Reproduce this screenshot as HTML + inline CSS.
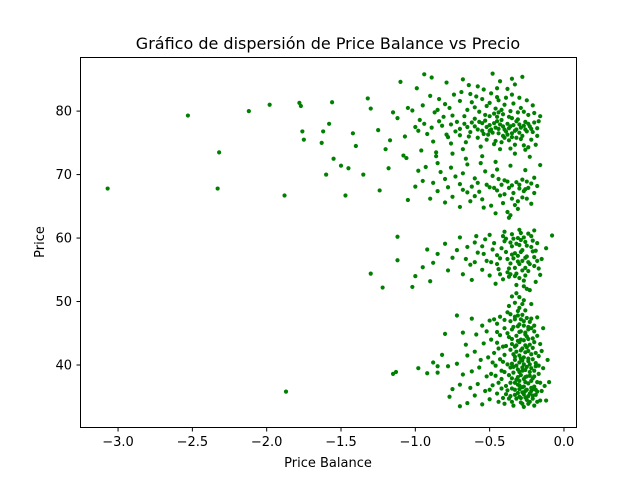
<!DOCTYPE html>
<html><head><meta charset="utf-8"><style>
body{margin:0;background:#fff}
svg text{font-family:"DejaVu Sans","Liberation Sans",sans-serif;fill:#000}
</style></head><body>
<svg id="chart" width="640" height="480" xmlns="http://www.w3.org/2000/svg">
<rect width="640" height="480" fill="#fff"/>
<text x="328" y="49" font-size="16" text-anchor="middle">Gráfico de dispersión de Price Balance vs Precio</text>
<g id="pts"></g>
<rect x="80.5" y="57.5" width="496" height="370" fill="none" stroke="#000" stroke-width="1"/>
<g id="axes"></g>
<text x="328" y="467" font-size="13" text-anchor="middle">Price Balance</text>
<text transform="translate(44,242) rotate(-90)" font-size="13" text-anchor="middle">Price</text>
</svg>
<script>
const xTicks=[-3.0,-2.5,-2.0,-1.5,-1.0,-0.5,0.0];
const yTicks=[40,50,60,70,80];
const outliers=[[-3.07,67.8],[-2.53,79.3],[-2.32,73.5],[-2.33,67.8],[-2.12,80],[-1.98,81],[-1.88,66.7],[-1.87,35.8],[-1.78,81.3],[-1.77,80.8],[-1.76,76.8],[-1.75,75.5],[-1.63,75],[-1.62,76.8],[-1.6,70],[-1.58,78],[-1.56,81.4],[-1.55,72.5],[-1.5,71.4],[-1.47,66.7],[-1.45,71],[-1.42,76.5],[-1.4,74.5],[-1.35,70],[-1.32,82],[-1.3,80.4],[-1.3,54.4],[-1.25,77],[-1.24,67.5],[-1.22,52.2],[-1.2,74],[-1.18,71],[-1.15,38.6],[-1.13,38.9],[-1.12,60.2],[-1.12,56.5],[-1.0,54],[-0.98,39.5],[-1.02,52.3],[-1.1,84.6],[-1.15,79.8],[-1.08,73],[-1.05,80.5],[-1.0,77.5],[-0.92,58.2],[-0.92,38.7],[-0.85,39.8]];
const lowBand=[[-0.7,33.5],[-0.65,34],[-0.6,35.2],[-0.55,33.8],[-0.5,34.6],[-0.45,35.5],[-0.4,33.9],[-0.35,34.2],[-0.3,35],[-0.25,34.5],[-0.2,33.6],[-0.18,35.8],[-0.28,36.5],[-0.33,37.2],[-0.38,36],[-0.42,37.8],[-0.48,36.8],[-0.52,38.2],[-0.58,37],[-0.62,39],[-0.68,38.5],[-0.72,40.2],[-0.78,39.8],[-0.85,38.8],[-0.88,40.4],[-0.75,36.2],[-0.22,37.5],[-0.17,38.6],[-0.26,39.2],[-0.31,38.1],[-0.36,39.6],[-0.41,40.5],[-0.46,39.9],[-0.51,41.2],[-0.56,40.8],[-0.6,42.1],[-0.65,41.5],[-0.24,41],[-0.19,40.3],[-0.29,42.3],[-0.34,41.7],[-0.39,43],[-0.44,42.6],[-0.49,44],[-0.54,43.4],[-0.59,44.8],[-0.2,43.6],[-0.25,44.5],[-0.3,45.2],[-0.35,44.1],[-0.4,45.8],[-0.45,46.5],[-0.5,47],[-0.55,46.2],[-0.62,47.3],[-0.68,45.1],[-0.23,46.8],[-0.18,47.5],[-0.28,47.9],[-0.33,47.2],[-0.38,48.3],[-0.43,47.6],[-0.3,49],[-0.27,50.2],[-0.35,50.8],[-0.22,49.6],[-0.32,51.3],[-0.25,52],[-0.8,44.9],[-0.72,47.8],[-0.15,42.2],[-0.14,39.5],[-0.13,36.7],[-0.16,34.4],[-0.21,35.2],[-0.26,35.9],[-0.31,36.9],[-0.36,35.1],[-0.41,34.8],[-0.27,37.8],[-0.32,39.9],[-0.37,38.4],[-0.23,38.9],[-0.28,40.7],[-0.33,42.9],[-0.21,44.2],[-0.26,43.1],[-0.31,46.1],[-0.36,46.9],[-0.24,46],[-0.29,34.1],[-0.34,33.6],[-0.19,36.1],[-0.24,33.9],[-0.46,38.3],[-0.53,35.9],[-0.57,39.6],[-0.63,36.4],[-0.47,41.9],[-0.43,44.7],[-0.52,45.3],[-0.66,43.2],[-0.11,40.8],[-0.1,37.3],[-0.12,34.4],[-0.7,36.9],[-0.77,35],[-0.82,41.6],
[-0.27,35.4],[-0.3,36.2],[-0.22,36.4],[-0.25,38.2],[-0.3,37.5],[-0.35,37.9],[-0.2,39.1],[-0.28,39.6],[-0.33,40.8],[-0.23,40.1],[-0.26,42],[-0.31,43.8],[-0.21,42.7],[-0.36,42.4],[-0.38,45],[-0.24,45.6],[-0.29,44],[-0.34,46],[-0.27,46.9],[-0.31,48.5],[-0.4,47.1],[-0.26,48.6],[-0.37,49.3],[-0.2,45.3],[-0.17,41.4],[-0.16,37.2],[-0.39,36.7],[-0.44,34.2],[-0.32,34.7],[-0.27,33.4],[-0.23,35.5],[-0.18,34.2],[-0.35,36.3],[-0.42,39.1],[-0.48,40.4],[-0.4,41.6],[-0.45,43.5]];
const lowCore=[[-0.29,34.8],[-0.26,34.9],[-0.24,35.1],[-0.21,34.7],[-0.19,35.3],[-0.31,35.6],[-0.28,35.7],[-0.25,36.1],[-0.22,35.9],[-0.2,36.6],[-0.33,36.1],[-0.3,36.8],[-0.27,36.6],[-0.24,37.1],[-0.21,37.9],[-0.18,37.3],[-0.32,37.7],[-0.29,38.4],[-0.26,38.1],[-0.23,38.3],[-0.2,38.2],[-0.34,38.8],[-0.31,39.3],[-0.28,39.1],[-0.25,39.7],[-0.22,39.5],[-0.19,39.8],[-0.35,40.2],[-0.3,40.4],[-0.27,40.1],[-0.24,40.6],[-0.21,40.9],[-0.33,41.3],[-0.3,41.5],[-0.27,41.2],[-0.22,41.7],[-0.19,41.9],[-0.32,42.1],[-0.28,42.6],[-0.25,42.8],[-0.23,43.2],[-0.35,43.3],[-0.3,43.6],[-0.27,43.9],[-0.24,44.1],[-0.32,44.6],[-0.29,45.3],[-0.26,45.1],[-0.22,45.8],[-0.35,45.6],[-0.3,46.4],[-0.27,46.2],[-0.33,47.6],[-0.29,47.2],[-0.25,47.4],[-0.22,47.3],[-0.36,48],[-0.4,38.9],[-0.38,40.1],[-0.42,36.3],[-0.37,34.7],[-0.39,35.4],[-0.44,37.2],[-0.43,40.9],[-0.41,42.9],[-0.37,44.4],[-0.45,45.2],[-0.47,47.2],[-0.49,38.6],[-0.5,36.1],[-0.17,39.9],[-0.16,43.3],[-0.18,44.6],[-0.15,35.9],[-0.14,45.8],[-0.2,46.2],[-0.28,33.9],[-0.23,34.2],[-0.33,35.3],[-0.36,37.2],[-0.3,38.9],[-0.26,37.3],[-0.21,36.2],[-0.24,42.2],[-0.32,43.1],[-0.29,41],[-0.34,39.7],[-0.26,44.8],[-0.31,47.8],[-0.28,49.6],[-0.33,49.8],[-0.3,50.7]];
const midBand=[[-0.7,60.1],[-0.65,58.6],[-0.6,56.2],[-0.55,55],[-0.5,54.1],[-0.45,57.3],[-0.4,59.5],[-0.35,60.6],[-0.3,58.9],[-0.25,57.1],[-0.2,55.6],[-0.18,59.2],[-0.22,60.3],[-0.28,56.4],[-0.33,55.3],[-0.38,54.6],[-0.43,56.8],[-0.48,58.2],[-0.53,59.8],[-0.58,57.7],[-0.63,55.8],[-0.68,54.3],[-0.75,56.9],[-0.8,59.1],[-0.85,57.5],[-0.9,53.2],[-0.95,55.4],[-0.27,53.3],[-0.32,52.6],[-0.37,53.9],[-0.24,54.8],[-0.19,53.1],[-0.29,60.8],[-0.34,59.9],[-0.39,57.8],[-0.44,55.1],[-0.49,56.2],[-0.54,57.5],[-0.59,60.3],[-0.21,57.9],[-0.26,59.4],[-0.31,57.2],[-0.36,56],[-0.41,53.5],[-0.46,52.8],[-0.15,56.7],[-0.12,58.4],[-0.08,60.4],[-0.16,54.2],[-0.23,51.8],[-0.5,60.5],[-0.62,53.4],[-0.72,58.1],[-0.88,56.1],[-0.78,54.9],[-0.3,61.3],[-0.4,61],[-0.2,61.2],
[-0.33,57.6],[-0.28,58.1],[-0.24,56.2],[-0.35,58.7],[-0.3,55.9],[-0.26,54.1],[-0.38,56.7],[-0.22,58.6],[-0.32,54.4],[-0.27,60.1],[-0.36,59.3],[-0.2,57],
[-0.34,56.8],[-0.31,56.3],[-0.29,57.8],[-0.26,55.3],[-0.23,55.9],[-0.37,55.2],[-0.33,54],[-0.28,54.9],[-0.25,58.8],[-0.21,59.6],[-0.18,56.4],[-0.39,59.9],[-0.42,58.4],[-0.45,55.9],[-0.3,53.7],[-0.27,52.4],[-0.35,57.4],[-0.32,59.1],[-0.29,59.7],[-0.24,60.7],[-0.19,58],[-0.17,55.2],[-0.41,60.3],[-0.47,59.2],[-0.43,54.3],[-0.55,58.7],[-0.52,56.4],[-0.6,59.3],[-0.66,56.7],[-0.26,56.9],[-0.31,60],[-0.36,54.3]];
const upperBand=[[-0.7,68.5],[-0.65,67.2],[-0.6,69.4],[-0.55,66.1],[-0.5,68],[-0.45,67.5],[-0.4,69.1],[-0.35,68.3],[-0.3,67.8],[-0.25,68.9],[-0.2,67.1],[-0.28,66.4],[-0.33,65.2],[-0.38,64.1],[-0.43,66.7],[-0.48,69.8],[-0.53,70.5],[-0.58,68.7],[-0.63,65.8],[-0.68,70.2],[-0.75,66.5],[-0.8,69.3],[-0.85,67.4],[-0.9,66.2],[-0.95,69],[-1.0,68.1],[-1.05,66],[-0.36,63.6],[-0.31,64.6],[-0.41,65.5],[-0.46,63.9],[-0.22,65.4],[-0.18,68.2],[-0.26,70.7],[-0.36,71.4],[-0.46,72],[-0.56,71.8],[-0.66,72.5],[-0.76,71.1],[-0.86,72.9],[-0.96,73.8],[-1.06,72.6],[-0.16,71.5],[-0.23,72.8],[-0.33,73.3],[-0.32,68.8],[-0.27,67.4],[-0.37,67.9],[-0.24,67.9],[-0.42,68.4],
[-0.3,68.4],[-0.34,67.1],[-0.28,69.2],[-0.26,67.7],[-0.22,68.6],[-0.38,68.9],[-0.44,69.3],[-0.47,67.9],[-0.52,68.4],[-0.57,67.3],[-0.62,68.1],[-0.68,67.6],[-0.73,69.7],[-0.78,68],[-0.83,70.4],[-0.88,68.7],[-0.93,71.2],[-0.98,70.6],[-0.35,66.2],[-0.4,66.9],[-0.49,65.1],[-0.54,64.8],[-0.31,65.8],[-0.37,63.2],[-0.2,69.5],[-0.25,66.2],[-0.45,70.8],[-0.55,72.9],[-0.65,71.6],[-0.75,73.3],[-0.85,71.8],[-0.6,66.6],[-0.7,64.9],[-0.8,65.6]];
const topBand=[[-0.7,76.2],[-0.65,77.5],[-0.6,78.8],[-0.55,76.9],[-0.5,77.8],[-0.45,78.4],[-0.4,77.1],[-0.35,76.5],[-0.3,77.9],[-0.25,76.8],[-0.2,78.2],[-0.18,77.3],[-0.22,75.5],[-0.27,74.6],[-0.32,75.8],[-0.37,79.1],[-0.42,80.2],[-0.47,79.6],[-0.52,80.8],[-0.57,79.9],[-0.62,81.4],[-0.67,79.2],[-0.72,78.3],[-0.77,80.5],[-0.82,77.7],[-0.87,79.8],[-0.92,76.4],[-0.97,78.6],[-1.02,80.1],[-1.07,76],[-1.12,78.9],[-1.17,75.4],[-0.24,79.4],[-0.29,80.5],[-0.34,81.2],[-0.39,82.1],[-0.44,81.7],[-0.49,82.8],[-0.54,83.4],[-0.59,82.3],[-0.64,84.1],[-0.69,83],[-0.74,82.6],[-0.79,84.5],[-0.84,81.9],[-0.89,85.3],[-0.94,85.8],[-0.99,83.6],[-0.28,85.4],[-0.33,84.2],[-0.48,85.9],[-0.43,84.7],[-0.38,83.5],[-0.21,80.9],[-0.16,79.2],[-0.19,74.7],[-0.26,73.9],[-0.36,74.1],[-0.46,75.3],[-0.56,74.4],[-0.66,75.1],[-0.76,74.9],[-0.86,73.5],[-0.41,76.1],[-0.51,76.3],[-0.31,78.7],[-0.23,77.6],[-0.44,77.2],[-0.53,78.5],[-0.63,76.7],[-0.48,76.6],[-0.38,78],[-0.28,76.1],[-0.58,77.1],
[-0.46,77.4],[-0.42,78.6],[-0.36,77.6],[-0.33,76.9],[-0.4,75.8],[-0.5,76.9],[-0.3,76.6],[-0.26,78.3],[-0.45,79.1],[-0.55,78.1],[-0.35,78.9],[-0.21,76.7]];
const topCore=[[-0.49,77.1],[-0.47,78.1],[-0.44,76.5],[-0.43,77.9],[-0.41,77.6],[-0.39,76.8],[-0.37,77.3],[-0.34,77.8],[-0.32,77.1],[-0.29,77.4],[-0.27,77.7],[-0.24,78],[-0.22,77.2],[-0.52,77.5],[-0.54,76.4],[-0.57,78.3],[-0.6,77.6],[-0.62,78.2],[-0.64,76],[-0.67,78],[-0.7,77.2],[-0.73,76.8],[-0.76,77.9],[-0.79,76.3],[-0.81,79.1],[-0.84,78.4],[-0.89,77.4],[-0.94,78],[-0.5,79.2],[-0.46,80.4],[-0.41,79.5],[-0.36,80],[-0.31,79.8],[-0.27,79.9],[-0.52,75.5],[-0.47,74.8],[-0.42,75.1],[-0.37,75.4],[-0.33,74.7],[-0.29,75.6],[-0.24,74.3],[-0.55,81.9],[-0.5,81.3],[-0.45,82.2],[-0.4,81],[-0.35,82.6],[-0.3,82.1],[-0.6,80.6],[-0.65,80.2],[-0.7,81.6],[-0.75,79.3],[-0.8,81.1],[-0.85,80.2],[-0.9,82.4],[-0.95,80.9],[-0.58,83.9],[-0.63,82.7],[-0.68,85],[-0.45,83.6],[-0.35,85.1],[-0.25,81.7],[-0.2,79.7],[-0.18,76.1],[-0.17,78.4],[-0.43,74],[-0.58,75.8],[-0.68,74],[-0.78,75.9],[-0.88,75.2],[-0.98,76.9],[-0.38,76.3],[-0.32,78.4],[-0.44,79.8],[-0.53,79.4],[-0.26,77.1],[-0.35,75.9]];
const xMin=-3.256,xMax=0.081,yMin=30.2,yMax=88.43;
const L=80,R=576,T=57.6,B=427.2;
const sx=v=>L+(v-xMin)/(xMax-xMin)*(R-L);
const sy=v=>B-(v-yMin)/(yMax-yMin)*(B-T);
const NS="http://www.w3.org/2000/svg";
const g=document.getElementById('pts');
[outliers,lowBand,lowCore,midBand,upperBand,topBand,topCore].forEach(arr=>arr.forEach(p=>{
 const c=document.createElementNS(NS,'circle');
 
 
 c.setAttribute('cx',sx(p[0]));c.setAttribute('cy',sy(p[1]));c.setAttribute('r',2.1);c.setAttribute('fill','#008000');
 g.appendChild(c);
}));
const ax=document.getElementById('axes');
xTicks.forEach(t=>{
 const x=sx(t);
 const l=document.createElementNS(NS,'line');
 
 
 l.setAttribute('x1',x);l.setAttribute('x2',x);l.setAttribute('y1',427.5);l.setAttribute('y2',431.5);l.setAttribute('stroke','#000');
 ax.appendChild(l);
 const tx=document.createElementNS(NS,'text');
 
 
 tx.setAttribute('x',x);tx.setAttribute('y',446);tx.setAttribute('font-size','13');tx.setAttribute('text-anchor','middle');
 tx.textContent=(t===0?'0.0':(t<0?'\u2212':'')+Math.abs(t).toFixed(1));
 ax.appendChild(tx);
});
yTicks.forEach(t=>{
 const y=sy(t);
 const l=document.createElementNS(NS,'line');
 
 
 l.setAttribute('x1',76.5);l.setAttribute('x2',80.5);l.setAttribute('y1',y);l.setAttribute('y2',y);l.setAttribute('stroke','#000');
 ax.appendChild(l);
 const tx=document.createElementNS(NS,'text');
 
 
 tx.setAttribute('x',72);tx.setAttribute('y',y+4.5);tx.setAttribute('font-size','13');tx.setAttribute('text-anchor','end');
 tx.textContent=t;
 ax.appendChild(tx);
});
</script>
</body></html>
